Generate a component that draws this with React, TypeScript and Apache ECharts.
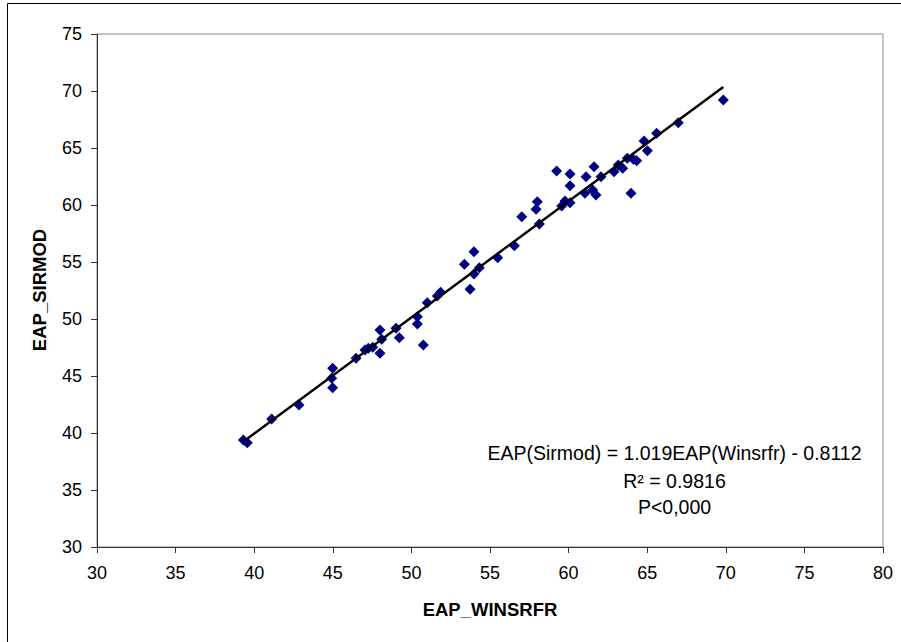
import React, { useEffect, useRef } from "react";
import * as echarts from "echarts";

const xValues = [
  39.31, 39.56, 41.11, 42.85, 44.99, 44.93, 44.99, 46.48, 47.05, 47.26, 47.54, 48.0, 48.11, 48.0, 49.02, 49.23,
  50.38, 50.38, 50.76, 51.01, 51.65, 51.86, 53.37, 53.98, 53.98, 54.32, 53.73, 55.49, 56.55, 58.14, 57.02, 57.93,
  58.01, 59.24, 60.09, 60.09, 59.56, 59.77, 60.09, 61.11, 61.62, 61.04, 61.53, 61.74, 62.06, 62.89, 63.16, 63.44,
  63.73, 64.12, 64.33, 63.97, 64.8, 65.01, 65.6, 66.98, 69.84,
];
const yValues = [
  39.39, 39.15, 41.23, 42.46, 45.68, 44.8, 43.97, 46.55, 47.28, 47.43, 47.52, 49.04, 48.22, 46.99, 49.18, 48.36,
  50.2, 49.56, 47.72, 51.43, 52.02, 52.34, 54.8, 55.9, 53.95, 54.5, 52.61, 55.38, 56.43, 58.33, 58.97, 59.62,
  60.29, 62.98, 62.72, 61.69, 59.91, 60.35, 60.2, 62.48, 63.36, 61.03, 61.32, 60.88, 62.48, 62.92, 63.51, 63.22,
  64.1, 64.01, 63.89, 61.03, 65.61, 64.76, 66.29, 67.22, 69.21,
];
const slope = 1.019;
const intercept = -0.8112;
const trendRange = [39.3, 69.84];
const xTicks = [30, 80, 5];
const yTicks = [30, 75, 5];
const equationLines = ["EAP(Sirmod) = 1.019EAP(Winsrfr) - 0.8112", "R² = 0.9816", "P<0,000"];

const FONT = "'Liberation Sans', Arial, sans-serif";

export default function App() {
  const ref = useRef<HTMLDivElement>(null);
  useEffect(() => {
    if (!ref.current) return;
    const chart = echarts.init(ref.current, undefined, { renderer: "svg" });
    const points = xValues.map((x, i) => [x, yValues[i]]);
    const trend = trendRange.map((x) => [x, slope * x + intercept]);
    chart.setOption({
      animation: false,
      backgroundColor: "#ffffff",
      textStyle: { fontFamily: FONT },
      grid: {
        left: 97,
        right: 18,
        top: 34,
        bottom: 95,
        show: true,
        borderColor: "#8c8c8c",
        borderWidth: 1,
      },
      xAxis: {
        type: "value",
        min: xTicks[0],
        max: xTicks[1],
        interval: xTicks[2],
        axisLine: { show: true, onZero: false, lineStyle: { color: "#333333", width: 1 } },
        axisTick: { show: true, inside: false, length: 6, lineStyle: { color: "#333333" } },
        axisLabel: { color: "#000", fontSize: 18, fontFamily: FONT, margin: 17 },
        splitLine: { show: false },
      },
      yAxis: {
        type: "value",
        min: yTicks[0],
        max: yTicks[1],
        interval: yTicks[2],
        axisLine: { show: true, onZero: false, lineStyle: { color: "#333333", width: 1 } },
        axisTick: { show: true, inside: false, length: 6, lineStyle: { color: "#333333" } },
        axisLabel: { color: "#000", fontSize: 18, fontFamily: FONT, margin: 15 },
        splitLine: { show: false },
      },
      series: [
        {
          type: "line",
          data: trend,
          symbol: "none",
          lineStyle: { color: "#000000", width: 2.5 },
          z: 3,
        },
        {
          type: "scatter",
          data: points,
          symbol: "diamond",
          symbolSize: 11,
          itemStyle: { color: "#000080", opacity: 1 },
          z: 2,
        },
      ],
      graphic: [
        {
          type: "rect",
          shape: { x: 7.5, y: 3.5, width: 1000, height: 1000 },
          style: { fill: "none", stroke: "#000", lineWidth: 1 },
          silent: true,
        },
        {
          type: "text",
          x: 490,
          y: 609,
          style: {
            text: "EAP_WINSRFR",
            fontSize: 18.5,
            fontWeight: "bold",
            fontFamily: FONT,
            fill: "#000",
            textAlign: "center",
            textVerticalAlign: "middle",
          },
        },
        {
          type: "text",
          x: 39,
          y: 290,
          rotation: Math.PI / 2,
          style: {
            text: "EAP_SIRMOD",
            fontSize: 18.5,
            fontWeight: "bold",
            fontFamily: FONT,
            fill: "#000",
            textAlign: "center",
            textVerticalAlign: "middle",
          },
        },
        ...equationLines.map((t, i) => ({
          type: "text",
          x: 674.5,
          y: [453, 481, 507][i],
          style: {
            text: t,
            fontSize: 19.5,
            fontFamily: FONT,
            fill: "#000",
            textAlign: "center",
            textVerticalAlign: "middle",
          },
        })),
      ],
    });
    return () => chart.dispose();
  }, []);
  return <div ref={ref} style={{ width: 901, height: 642, position: "absolute", left: 0, top: 0 }} />;
}
